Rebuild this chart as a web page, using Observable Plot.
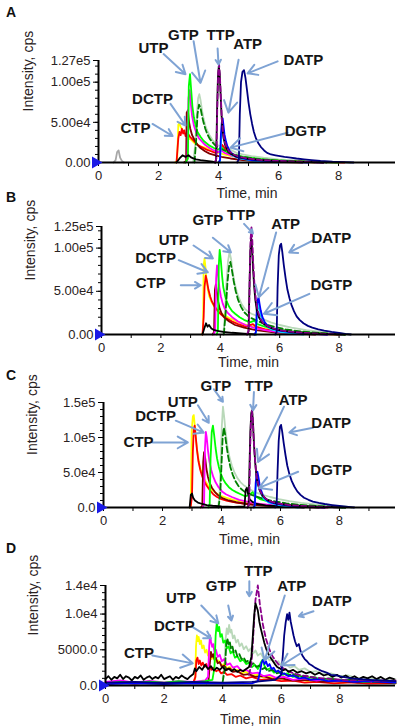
<!DOCTYPE html>
<html><head><meta charset="utf-8">
<script src="https://cdn.jsdelivr.net/npm/d3@7"></script>
<script src="https://cdn.jsdelivr.net/npm/@observablehq/plot@0.6"></script>
<style>
html,body{margin:0;padding:0;background:#fff;}
#root{position:relative;width:400px;height:728px;overflow:hidden;font-family:"Liberation Sans",Arial,sans-serif;}
.panel{position:absolute;left:0;}
.letter{position:absolute;left:6px;font:bold 14px "Liberation Sans",Arial,sans-serif;color:#111;line-height:14px;}
</style></head><body><div id="root"></div>
<script>
// ---------- Panel A traces [time (min), intensity (cps)] ----------
const A_grey = [[0.5,0],[0.57,3000],[0.62,13000],[0.67,15000],[0.72,6000],[0.78,2000],[0.85,0]];
const A_lightgreen = [[3.15,0],[3.22,20000],[3.27,55000],[3.32,80000],[3.36,85000],[3.4,78000],[3.45,65000],[3.5,55000],[3.56,46000],[3.62,40000],[3.7,34000],[3.8,28000],[3.9,24000],[4.0,21000],[4.15,20000],[4.3,18000],[4.45,15000],[4.6,12000],[4.8,10000],[5.1,8000],[5.5,6000],[6,4000],[6.6,2500],[7.2,1500],[8,500],[8.4,0]];
const A_yellow = [[2.55,0],[2.62,2000],[2.66,47000],[2.70,49000],[2.74,44000],[2.78,42000],[2.84,38000],[2.90,36000],[2.96,33000],[3.02,30000],[3.1,28000],[3.2,24000],[3.3,22000],[3.4,20000],[3.5,19000],[3.6,18000],[3.75,15000],[3.9,13000],[4.1,11000],[4.3,9000],[4.6,7000],[5.0,5000],[5.5,3000],[6,2000],[6.5,1200],[7,600],[7.2,0]];
const A_red = [[2.6,0],[2.66,30000],[2.70,38000],[2.74,34000],[2.78,42000],[2.82,36000],[2.86,40000],[2.9,33000],[2.95,37000],[3.0,35000],[3.05,32000],[3.1,30000],[3.2,26000],[3.3,22000],[3.4,20000],[3.5,18000],[3.6,16000],[3.75,14000],[3.9,12000],[4.05,14000],[4.12,22000],[4.2,18000],[4.3,12000],[4.5,9000],[4.8,6000],[5.2,4000],[5.8,2500],[6.5,1500],[7.5,500],[8.2,0]];
const A_maroon = [[2.85,0],[2.92,2000],[2.94,62000],[2.98,65000],[3.02,50000],[3.06,42000],[3.12,34000],[3.2,28000],[3.3,22000],[3.4,18000],[3.55,14000],[3.7,11000],[3.9,9000],[4.1,7000],[4.4,5000],[4.8,3000],[5.4,1500],[6.2,500],[6.8,0]];
const A_magenta = [[2.9,0],[2.96,3000],[3.0,80000],[3.04,90000],[3.08,72000],[3.12,58000],[3.18,46000],[3.25,38000],[3.35,30000],[3.45,26000],[3.55,22000],[3.7,18000],[3.85,15000],[4.0,13000],[4.1,15000],[4.2,12000],[4.4,9000],[4.7,6000],[5.1,4000],[5.6,2500],[6.3,1200],[7,500],[7.5,0]];
const A_green = [[2.9,0],[2.98,5000],[3.01,95000],[3.05,110000],[3.09,90000],[3.13,70000],[3.18,56000],[3.24,46000],[3.3,38000],[3.4,32000],[3.5,27000],[3.6,24000],[3.7,21000],[3.85,18000],[4.0,16000],[4.1,19000],[4.2,15000],[4.4,11000],[4.7,8000],[5.0,6000],[5.5,4000],[6,2500],[6.6,1500],[7.2,800],[8.0,0]];
const A_darkgreen = [[3.2,0],[3.26,30000],[3.3,60000],[3.35,72000],[3.4,68000],[3.45,58000],[3.5,50000],[3.56,42000],[3.62,36000],[3.7,30000],[3.8,25000],[3.9,21000],[4.0,18000],[4.15,16000],[4.3,13000],[4.5,10000],[4.8,7000],[5.2,5000],[5.7,3000],[6.3,1800],[7,800],[7.6,0]];
const A_black2 = [[2.6,0],[2.7,5000],[2.8,9000],[2.9,7000],[3.0,9000],[3.1,6000],[3.25,4000],[3.4,3000],[3.6,2000],[3.8,1000],[3.9,0]];
const A_cyan = [[4.05,0],[4.09,30000],[4.13,45000],[4.17,38000],[4.22,25000],[4.3,16000],[4.45,9000],[4.7,5000],[5.2,2000],[6,0]];
const A_blue = [[4.0,0],[4.05,3000],[4.08,35000],[4.11,50000],[4.14,55000],[4.17,45000],[4.2,35000],[4.25,26000],[4.3,20000],[4.38,14000],[4.48,10000],[4.6,7000],[4.8,5000],[5.1,3000],[5.5,2000],[6.2,1000],[7,0]];
const A_black = [[3.88,0],[3.92,3000],[3.95,60000],[3.98,105000],[4.01,120000],[4.04,110000],[4.07,85000],[4.1,60000],[4.13,42000],[4.17,30000],[4.22,22000],[4.3,15000],[4.4,11000],[4.55,8000],[4.75,6000],[5.0,4500],[5.4,3000],[6,1800],[6.8,800],[7.5,0]];
const A_purple = [[3.88,0],[3.93,5000],[3.96,70000],[3.99,112000],[4.02,122000],[4.05,105000],[4.08,80000],[4.11,55000],[4.15,38000],[4.2,27000],[4.27,19000],[4.35,14000],[4.5,10000],[4.7,7000],[5.0,5000],[5.4,3200],[6,2000],[6.8,900],[7.5,0]];
const A_navy = [[4.62,0],[4.68,4000],[4.71,60000],[4.75,100000],[4.8,113000],[4.85,115000],[4.9,105000],[4.95,90000],[5.0,75000],[5.06,60000],[5.12,48000],[5.18,38000],[5.25,30000],[5.33,24000],[5.42,19000],[5.52,15000],[5.62,12000],[5.75,10000],[5.9,9000],[6.05,8000],[6.2,7000],[6.4,6000],[6.6,5000],[6.85,4000],[7.1,3000],[7.4,2000],[7.8,1000],[8.2,500],[8.5,0]];
const A_labels = [["CTP",1.23,43000],["DCTP",1.8,79000],["UTP",1.83,142000],["GTP",2.83,159000],["TTP",4.07,159000],["ATP",4.97,147000],["DATP",6.83,128000],["DGTP",6.9,39500]];
const A_arrows = [[1.8,48000,2.47,33000],[2.4,73000,2.9,46000],[2.17,135000,2.9,110000],[3.17,151000,3.4,99000],[3.97,142000,4.0,122000],[4.67,128000,4.33,62000],[5.97,126000,4.97,111000],[6.3,37000,4.4,18500]];
const A_yTicks = [0, 50000, 100000, 127000];
const A_yTickLabels = ["0.00", "5.00e4", "1.00e5", "1.27e5"];

// ---------- Panel B ----------
const B_black2 = [[3.4,0],[3.47,8000],[3.52,13000],[3.57,9000],[3.62,11000],[3.7,7000],[3.8,5000],[3.95,4000],[4.1,3000],[4.4,2000],[4.8,1000],[5.2,0]];
const B_lightgreen = [[4.1,0],[4.15,20000],[4.2,55000],[4.26,85000],[4.31,95000],[4.36,88000],[4.42,72000],[4.48,60000],[4.55,50000],[4.63,42000],[4.72,35000],[4.82,30000],[4.95,26000],[5.05,24000],[5.2,22000],[5.35,20000],[5.5,17000],[5.7,14000],[6.0,11000],[6.4,8000],[6.9,5000],[7.4,3000],[8,1500],[8.4,0]];
const B_yellow = [[3.38,0],[3.42,3000],[3.44,80000],[3.47,88000],[3.5,78000],[3.54,62000],[3.58,52000],[3.63,44000],[3.7,38000],[3.8,32000],[3.9,28000],[4.0,25000],[4.15,22000],[4.3,19000],[4.5,16000],[4.7,13000],[5.0,10000],[5.4,7000],[5.9,4500],[6.5,2500],[7.2,1200],[8,0]];
const B_red = [[3.4,0],[3.44,20000],[3.47,55000],[3.51,68000],[3.55,62000],[3.6,52000],[3.66,44000],[3.72,38000],[3.8,33000],[3.9,28000],[4.0,24000],[4.1,21000],[4.25,18000],[4.4,15000],[4.6,12000],[4.85,9000],[5.1,12000],[5.2,9000],[5.5,6000],[6,3500],[6.6,2000],[7.3,800],[8,0]];
const B_maroon = [[3.74,0],[3.79,3000],[3.82,52000],[3.85,58000],[3.89,48000],[3.93,38000],[3.98,30000],[4.05,24000],[4.15,19000],[4.3,15000],[4.5,11000],[4.8,8000],[5.2,5000],[5.8,2500],[6.6,1000],[7.2,0]];
const B_magenta = [[3.78,0],[3.83,5000],[3.86,65000],[3.89,80000],[3.93,68000],[3.97,54000],[4.02,44000],[4.08,36000],[4.15,30000],[4.25,25000],[4.4,20000],[4.6,15000],[4.85,11000],[5.2,7000],[5.7,4000],[6.3,2000],[7,800],[7.6,0]];
const B_green = [[3.88,0],[3.92,5000],[3.95,80000],[3.98,98000],[4.02,85000],[4.06,68000],[4.1,55000],[4.16,45000],[4.22,38000],[4.3,32000],[4.4,27000],[4.5,24000],[4.65,20000],[4.8,17000],[5.0,14000],[5.15,16000],[5.25,12000],[5.5,9000],[5.9,6000],[6.4,3500],[7,2000],[7.6,800],[8.2,0]];
const B_darkgreen = [[4.12,0],[4.18,25000],[4.24,60000],[4.3,80000],[4.34,84000],[4.39,75000],[4.45,62000],[4.52,50000],[4.6,40000],[4.7,32000],[4.8,26000],[4.95,21000],[5.1,18000],[5.3,15000],[5.5,12000],[5.8,9000],[6.2,6000],[6.7,3500],[7.3,1800],[8,500],[8.3,0]];
const B_cyan = [[5.2,0],[5.24,25000],[5.28,35000],[5.33,28000],[5.4,18000],[5.5,11000],[5.7,6000],[6.1,2500],[6.8,0]];
const B_blue = [[5.15,0],[5.2,3000],[5.23,30000],[5.26,40000],[5.29,43000],[5.32,36000],[5.36,28000],[5.42,20000],[5.5,14000],[5.6,10000],[5.75,7000],[6.0,4500],[6.4,2500],[7,1000],[7.6,0]];
const B_black = [[4.9,0],[4.95,3000],[4.98,50000],[5.01,95000],[5.04,112000],[5.07,100000],[5.1,78000],[5.14,56000],[5.18,40000],[5.23,28000],[5.3,20000],[5.4,14000],[5.55,10000],[5.75,7000],[6.0,5000],[6.4,3000],[7,1500],[7.8,500],[8.2,0]];
const B_purple = [[4.9,0],[4.96,5000],[4.99,65000],[5.02,110000],[5.05,124000],[5.08,108000],[5.11,82000],[5.15,58000],[5.2,40000],[5.26,28000],[5.34,19000],[5.45,13000],[5.6,9500],[5.8,7000],[6.1,4500],[6.5,2800],[7.1,1300],[7.8,400],[8.1,0]];
const B_navy = [[5.85,0],[5.9,3000],[5.93,55000],[5.97,92000],[6.01,103000],[6.05,105000],[6.09,95000],[6.14,80000],[6.2,65000],[6.26,52000],[6.33,42000],[6.4,34000],[6.48,27000],[6.57,21000],[6.67,17000],[6.8,13000],[6.95,10000],[7.1,8000],[7.3,6000],[7.5,4500],[7.75,3000],[8.0,2000],[8.2,800],[8.4,0]];
const B_labels = [["CTP",1.66,59000],["DCTP",1.82,88000],["UTP",2.43,109000],["GTP",3.58,132000],["TTP",4.7,138000],["ATP",6.2,128000],["DATP",7.74,112000],["DGTP",7.74,57000]];
const B_arrows = [[2.67,57000,3.34,57000],[2.6,86000,3.58,72000],[3.1,103000,3.75,88000],[3.75,112000,4.36,95000],[4.8,128000,5.1,117000],[5.88,118000,5.3,43000],[7.13,109000,6.32,95000],[7.0,47000,5.47,24000]];
const B_yTicks = [0, 50000, 100000, 125000];
const B_yTickLabels = ["0.00", "5.00e4", "1.00e5", "1.25e5"];

// ---------- Panel C ----------
const C_black2 = [[2.92,0],[2.96,18000],[3.0,20000],[3.04,14000],[3.1,10000],[3.2,7000],[3.35,5000],[3.5,3500],[3.7,2500],[4.0,1500],[4.4,800],[4.78,1500],[4.82,25000],[4.86,28000],[4.9,20000],[4.95,12000],[5.05,8000],[5.2,5000],[5.5,3000],[6,1500],[6.8,0]];
const C_lightgreen = [[3.88,0],[3.93,15000],[3.97,60000],[4.01,115000],[4.05,144000],[4.09,130000],[4.14,108000],[4.2,88000],[4.27,72000],[4.35,60000],[4.44,50000],[4.54,42000],[4.65,36000],[4.78,31000],[4.92,27000],[5.05,24000],[5.2,21000],[5.4,18000],[5.65,15000],[5.95,12000],[6.3,9000],[6.7,6500],[7.2,4500],[7.7,3000],[8.2,1500],[8.4,0]];
const C_yellow = [[2.92,0],[2.96,3000],[2.99,110000],[3.03,130000],[3.06,132000],[3.1,115000],[3.14,95000],[3.18,80000],[3.23,66000],[3.29,55000],[3.36,46000],[3.45,38000],[3.55,31000],[3.65,26000],[3.8,21000],[3.95,17000],[4.15,14000],[4.4,11000],[4.7,8000],[5.1,5500],[5.6,3500],[6.2,2000],[7,800],[7.6,0]];
const C_red = [[2.95,0],[3.0,15000],[3.03,80000],[3.06,112000],[3.09,117000],[3.13,100000],[3.17,82000],[3.22,66000],[3.28,54000],[3.35,44000],[3.42,37000],[3.5,31000],[3.6,25000],[3.72,19000],[3.85,15000],[4.0,12000],[4.2,9500],[4.5,7000],[4.9,5000],[5.4,3200],[6,2000],[6.8,900],[7.5,0]];
const C_maroon = [[3.3,0],[3.35,3000],[3.38,65000],[3.41,79000],[3.45,70000],[3.49,55000],[3.54,44000],[3.6,35000],[3.68,28000],[3.78,22000],[3.9,17000],[4.05,13000],[4.25,10000],[4.5,7500],[4.85,5000],[5.3,3000],[6,1500],[6.8,500],[7.3,0]];
const C_magenta = [[3.36,0],[3.41,5000],[3.44,85000],[3.47,108000],[3.5,100000],[3.54,82000],[3.59,66000],[3.65,54000],[3.72,44000],[3.8,36000],[3.9,29000],[4.02,23000],[4.15,19000],[4.35,15000],[4.6,11000],[4.9,8000],[5.3,5000],[5.8,3000],[6.5,1500],[7.2,500],[7.6,0]];
const C_green = [[3.55,0],[3.6,5000],[3.63,70000],[3.67,108000],[3.71,117000],[3.75,104000],[3.8,85000],[3.85,70000],[3.91,58000],[3.98,48000],[4.06,40000],[4.15,34000],[4.25,29000],[4.37,25000],[4.5,22000],[4.65,19000],[4.8,16000],[4.95,18000],[5.05,22000],[5.15,16000],[5.3,12000],[5.55,9000],[5.9,6000],[6.4,3500],[7,2000],[7.6,800],[8.2,0]];
const C_darkgreen = [[3.9,0],[3.96,20000],[4.0,60000],[4.04,100000],[4.08,114000],[4.12,105000],[4.17,88000],[4.23,72000],[4.3,58000],[4.38,47000],[4.47,38000],[4.57,31000],[4.68,26000],[4.8,22000],[4.95,19000],[5.1,17000],[5.3,14000],[5.55,11000],[5.85,8500],[6.2,6000],[6.6,4000],[7.1,2500],[7.7,1200],[8.2,0]];
const C_cyan = [[5.12,0],[5.16,28000],[5.2,40000],[5.25,34000],[5.32,22000],[5.42,13000],[5.6,7000],[6,3000],[6.6,0]];
const C_blue = [[5.08,0],[5.13,3000],[5.16,35000],[5.19,48000],[5.22,51000],[5.25,44000],[5.29,34000],[5.34,25000],[5.4,18000],[5.48,12500],[5.58,9000],[5.72,6500],[5.95,4500],[6.3,2500],[6.9,1000],[7.5,0]];
const C_black = [[4.88,0],[4.92,3000],[4.95,60000],[4.98,110000],[5.01,135000],[5.04,139000],[5.07,120000],[5.1,92000],[5.14,66000],[5.18,47000],[5.23,34000],[5.3,24000],[5.4,16000],[5.55,11000],[5.75,7500],[6.0,5000],[6.4,3000],[7,1500],[7.8,500],[8.2,0]];
const C_purple = [[4.88,0],[4.94,5000],[4.97,80000],[5.0,125000],[5.03,138000],[5.06,128000],[5.09,100000],[5.13,72000],[5.17,52000],[5.22,37000],[5.29,26000],[5.38,18000],[5.5,12500],[5.68,8500],[5.9,6000],[6.3,3500],[6.9,1800],[7.6,600],[8,0]];
const C_navy = [[5.82,0],[5.87,3000],[5.9,50000],[5.94,95000],[5.98,115000],[6.02,118000],[6.06,108000],[6.11,92000],[6.17,75000],[6.23,60000],[6.3,48000],[6.38,38000],[6.47,30000],[6.57,23000],[6.68,18000],[6.8,14000],[6.95,11000],[7.1,8500],[7.3,6500],[7.5,5000],[7.75,3500],[8.0,2200],[8.3,800],[8.5,0]];
const C_labels = [["CTP",1.19,93000],["DCTP",1.77,131000],["UTP",2.69,151000],["GTP",3.81,174000],["TTP",5.27,174000],["ATP",6.43,153000],["DATP",7.72,121000],["DGTP",7.72,54000]];
const C_arrows = [[1.67,93000,2.86,93000],[2.45,124000,3.4,107000],[3.2,146000,3.57,121000],[3.74,169000,4.05,151000],[5.1,165000,5.07,139000],[6.12,144000,5.24,65000],[7.1,114000,6.3,107000],[6.6,51000,5.27,28000]];
const C_yTicks = [0, 50000, 100000, 150000];
const C_yTickLabels = ["0.0", "5.0e4", "1.0e5", "1.5e5"];

// ---------- Panel D ----------
const D_black = [[0,900],[0.1,1300],[0.2,800],[0.3,1200],[0.4,1000],[0.5,1500],[0.6,900],[0.7,1300],[0.8,1100],[0.9,700],[1.0,1200],[1.1,1000],[1.2,1400],[1.3,800],[1.4,1100],[1.5,1300],[1.6,900],[1.7,1200],[1.8,1000],[1.9,1500],[2.0,900],[2.1,1100],[2.2,1300],[2.3,800],[2.4,1200],[2.5,1000],[2.6,1400],[2.7,1100],[2.8,900],[2.9,1300],[3.0,1600],[3.05,2400],[3.1,2000],[3.2,2600],[3.3,2200],[3.4,2900],[3.5,2300],[3.6,2700],[3.7,2100],[3.8,2500],[3.9,2200],[4.0,2600],[4.1,2100],[4.2,2400],[4.3,2000],[4.4,2300],[4.5,1900],[4.6,2200],[4.7,2000],[4.8,2300],[4.9,2600],[4.98,4000],[5.03,7000],[5.08,10000],[5.12,11500],[5.16,11000],[5.2,10500],[5.25,9000],[5.3,8000],[5.36,7000],[5.42,6000],[5.48,5200],[5.55,4500],[5.62,4000],[5.7,3500],[5.78,3000],[5.86,2600],[5.95,2400],[6.05,2100],[6.15,2300],[6.25,1900],[6.4,2200],[6.55,1800],[6.7,2000],[6.85,1700],[7.0,1900],[7.15,1500],[7.3,1800],[7.45,1400],[7.6,1600],[7.75,1200],[7.9,1500],[8.05,1100],[8.2,1400],[8.35,1000],[8.5,1300],[8.65,900],[8.8,1200],[8.95,1000],[9.1,1300],[9.25,900],[9.4,1200],[9.55,800],[9.7,1100],[9.85,900]];
const D_lightgreen = [[4.0,1000],[4.06,3000],[4.1,6500],[4.14,8000],[4.18,7200],[4.22,8500],[4.26,7400],[4.3,7800],[4.35,6600],[4.4,7000],[4.46,6000],[4.52,6400],[4.58,5500],[4.65,5900],[4.72,5100],[4.8,5500],[4.88,4800],[4.96,5200],[5.04,4500],[5.12,4900],[5.2,4200],[5.3,4500],[5.4,3800],[5.5,4100],[5.6,3500],[5.7,3700],[5.8,3100],[5.9,3400],[6.0,2800],[6.15,3000],[6.3,2500],[6.45,2700],[6.6,2200],[6.8,2400],[7.0,1900],[7.2,2000],[7.4,1600],[7.7,1700],[8.0,1300],[8.3,1400],[8.6,1000],[9.0,1100],[9.4,800],[9.9,900]];
const D_yellow = [[2.9,300],[3.0,500],[3.06,800],[3.09,5500],[3.12,7000],[3.15,6200],[3.18,6800],[3.22,5800],[3.26,6300],[3.3,5200],[3.35,5600],[3.4,4600],[3.45,5000],[3.5,4200],[3.56,4500],[3.62,3700],[3.7,4000],[3.78,3300],[3.86,3500],[3.95,2800],[4.05,3000],[4.15,2400],[4.25,2600],[4.35,2000],[4.5,2200],[4.65,1700],[4.8,1900],[5.0,1400],[5.2,1500],[5.4,1100],[5.6,1200],[5.8,900],[6.0,1000],[6.3,700],[6.6,900],[6.9,600],[7.2,800],[7.5,500],[7.8,700],[8.1,400],[8.5,600],[8.9,300],[9.3,500],[9.9,300]];
const D_red = [[0,200],[0.5,400],[1.0,250],[1.5,450],[2.0,300],[2.5,400],[3.0,450],[3.07,1200],[3.1,3500],[3.14,3900],[3.18,3000],[3.22,3500],[3.27,2800],[3.32,3200],[3.38,2600],[3.44,3000],[3.5,2400],[3.56,2700],[3.62,2200],[3.7,2500],[3.78,2000],[3.86,2200],[3.95,1700],[4.05,1900],[4.15,1500],[4.3,1600],[4.45,1200],[4.6,1400],[4.8,1000],[5.0,1200],[5.3,800],[5.6,900],[6.0,600],[6.4,700],[6.8,400],[7.2,500],[7.8,300],[8.4,450],[9.0,250],[9.9,350]];
const D_maroon = [[3.45,300],[3.52,800],[3.56,3000],[3.6,4700],[3.64,4000],[3.68,4400],[3.72,3600],[3.77,3900],[3.83,3100],[3.9,3300],[3.97,2600],[4.05,2800],[4.15,2200],[4.25,2400],[4.35,1900],[4.5,2000],[4.7,1500],[4.9,1600],[5.1,1200],[5.4,1300],[5.7,900],[6.0,1000],[6.4,700],[6.9,800],[7.4,500],[8.0,600],[8.6,400],[9.2,500],[9.9,300]];
const D_magenta = [[0,500],[0.5,700],[1.0,400],[1.5,650],[2.0,450],[2.5,600],[3.0,500],[3.4,700],[3.5,1200],[3.54,5500],[3.57,7000],[3.6,6200],[3.64,5400],[3.68,5800],[3.72,4600],[3.77,5000],[3.83,4000],[3.9,4300],[3.97,3400],[4.05,3700],[4.15,2900],[4.25,3100],[4.35,2500],[4.5,2700],[4.65,2000],[4.8,2200],[5.0,1700],[5.2,1800],[5.4,1300],[5.6,1500],[5.8,1100],[6.1,1200],[6.4,800],[6.8,1000],[7.2,700],[7.6,900],[8.0,600],[8.5,800],[9.0,500],[9.5,700],[9.9,500]];
const D_green = [[0,300],[0.5,500],[1.0,350],[1.5,550],[2.0,400],[2.5,600],[3.0,450],[3.4,600],[3.65,800],[3.72,2500],[3.76,7000],[3.8,8800],[3.84,7600],[3.88,8200],[3.92,6800],[3.97,7200],[4.02,6000],[4.08,6300],[4.14,5200],[4.2,5500],[4.27,4500],[4.34,4800],[4.42,3900],[4.5,4100],[4.6,3400],[4.7,3600],[4.8,3000],[4.9,3200],[5.0,2600],[5.1,2900],[5.2,2300],[5.3,3200],[5.36,3600],[5.42,2800],[5.5,2200],[5.62,2400],[5.75,1800],[5.9,2000],[6.05,1500],[6.2,1700],[6.4,1200],[6.6,1400],[6.85,1000],[7.1,1200],[7.4,800],[7.7,1000],[8.0,700],[8.4,800],[8.8,500],[9.3,700],[9.9,400]];
const D_darkgreen = [[4.0,500],[4.08,2500],[4.12,5500],[4.16,6600],[4.2,5800],[4.24,6200],[4.28,5200],[4.33,5500],[4.38,4600],[4.44,4900],[4.5,4100],[4.57,4400],[4.64,3700],[4.72,3900],[4.8,3300],[4.88,3500],[4.96,2900],[5.05,3100],[5.15,2600],[5.25,2800],[5.35,2300],[5.45,2500],[5.55,2000],[5.7,2200],[5.85,1700],[6.0,1900],[6.2,1400],[6.4,1600],[6.6,1200],[6.9,1300],[7.2,900],[7.6,1000],[8.0,700],[8.5,800],[9.0,500],[9.9,600]];
const D_blue = [[0,200],[1,300],[2,200],[3,300],[4,250],[5.0,300],[5.2,600],[5.28,2000],[5.33,3200],[5.38,3600],[5.43,3000],[5.48,3400],[5.54,2700],[5.6,3000],[5.67,2300],[5.74,2500],[5.82,1900],[5.9,2100],[6.0,1600],[6.1,1700],[6.25,1300],[6.4,1400],[6.6,1000],[6.8,1100],[7.0,800],[7.3,900],[7.6,600],[8.0,700],[8.5,500],[9.0,600],[9.9,400]];
const D_purple = [[4.9,1500],[4.98,3000],[5.03,6000],[5.08,9500],[5.12,12000],[5.16,13000],[5.2,14000],[5.24,12500],[5.28,11000],[5.32,10000],[5.37,8600],[5.42,7600],[5.48,6500],[5.55,5600],[5.62,4800],[5.7,4100],[5.8,3500],[5.9,3000],[6.0,2600],[6.15,2200],[6.3,1900],[6.5,1600],[6.7,1400],[7.0,1200],[7.4,1000],[7.8,900],[8.3,700],[8.8,800],[9.3,600],[9.9,700]];
const D_navy = [[0,400],[1,500],[2,350],[3,500],[4,400],[5,500],[5.8,800],[6.0,1500],[6.05,4000],[6.1,7000],[6.15,8800],[6.2,10000],[6.24,9200],[6.28,10200],[6.32,9000],[6.37,8000],[6.42,7000],[6.47,6200],[6.53,5500],[6.6,5800],[6.66,4800],[6.72,4200],[6.8,3700],[6.88,3400],[6.96,3000],[7.05,2800],[7.15,2500],[7.25,2300],[7.4,2000],[7.55,1800],[7.7,1500],[7.9,1400],[8.1,1200],[8.4,1000],[8.7,900],[9.0,800],[9.4,700],[9.9,600]];
const D_labels = [["CTP",1.14,4500],["DCTP",2.35,8300],["UTP",2.58,12200],["GTP",3.95,13900],["TTP",5.22,16000],["ATP",6.36,13900],["DATP",7.73,11800],["DCTP",8.3,6300]];
const D_arrows = [[1.6,4200,2.98,3100],[2.92,8300,3.6,6600],[3.27,11200,3.85,8700],[4.19,11200,4.3,9100],[4.91,14600,4.91,12500],[6.12,12600,5.43,3500],[7.1,10400,6.6,9700],[7.2,5900,6.0,2800]];
const D_yTicks = [0, 5000, 10000, 14000];
const D_yTickLabels = ["0.0", "5000.0", "1.0e4", "1.4e4"];

const xTicks = [0, 2, 4, 6, 8];
const panelLetters = ["A", "B", "C", "D"];
const xTitle = "Time, min";
const yTitle = "Intensity, cps";

const colors = {grey:"#a8a8a8", lightgreen:"#b9d8b9", yellow:"#ffff00", red:"#ff0000", maroon:"#800000", magenta:"#ff00ff", green:"#00ff00", darkgreen:"#008000", black2:"#000000", cyan:"#00e0ff", blue:"#0000ff", black:"#000000", purple:"#8b008b", navy:"#000080"};
const dashes = {darkgreen:"6,3", purple:"5,3"};

const panels = [
  {letter:"A", top:0, height:200, mt:60, mb:38, ml:98, yMax:127000, minorStep:10000, yTicks:A_yTicks, yLabels:A_yTickLabels, labels:A_labels, arrows:A_arrows, xdy:35, ydx:-70,
   traces:[["grey",A_grey],["lightgreen",A_lightgreen],["yellow",A_yellow],["red",A_red],["maroon",A_maroon],["magenta",A_magenta],["green",A_green],["darkgreen",A_darkgreen],["black2",A_black2],["cyan",A_cyan],["blue",A_blue],["black",A_black],["purple",A_purple],["navy",A_navy]]},
  {letter:"B", top:200, height:168, mt:26, mb:34, ml:101, yMax:125000, minorStep:10000, yTicks:B_yTicks, yLabels:B_yTickLabels, labels:B_labels, arrows:B_arrows, xdy:32, ydx:-71,
   traces:[["lightgreen",B_lightgreen],["yellow",B_yellow],["red",B_red],["maroon",B_maroon],["magenta",B_magenta],["green",B_green],["darkgreen",B_darkgreen],["black2",B_black2],["cyan",B_cyan],["blue",B_blue],["black",B_black],["purple",B_purple],["navy",B_navy]]},
  {letter:"C", top:368, height:178, mt:34, mb:39, ml:103, yMax:150000, minorStep:10000, yTicks:C_yTicks, yLabels:C_yTickLabels, labels:C_labels, arrows:C_arrows, xdy:36, ydx:-71,
   traces:[["lightgreen",C_lightgreen],["yellow",C_yellow],["red",C_red],["maroon",C_maroon],["magenta",C_magenta],["green",C_green],["darkgreen",C_darkgreen],["black2",C_black2],["cyan",C_cyan],["blue",C_blue],["black",C_black],["purple",C_purple],["navy",C_navy]]},
  {letter:"D", top:546, height:182, mt:39, mb:43, ml:105, yMax:14000, minorStep:1000, yTicks:D_yTicks, yLabels:D_yTickLabels, labels:D_labels, arrows:D_arrows, xdy:38, ydx:-72,
   traces:[["lightgreen",D_lightgreen],["yellow",D_yellow],["red",D_red],["maroon",D_maroon],["magenta",D_magenta],["green",D_green],["darkgreen",D_darkgreen],["blue",D_blue],["purple",D_purple],["black",D_black],["navy",D_navy]]}
];
const letterTops = [5, 190, 368, 541];

const xMax = 9.9;
const root = document.getElementById("root");
panels.forEach((p, pi) => {
  const marks = [];
  const minor = d3.range(0, p.yMax + 1, p.minorStep);
  marks.push(Plot.axisY({ticks: minor, tickSize: 3, tickFormat: () => "", label: null, strokeWidth: 1}));
  marks.push(Plot.axisY({ticks: p.yTicks, tickSize: 5, tickPadding: 3, label: null, fontSize: 13, fill: "#2a2222",
    tickFormat: d => p.yLabels[p.yTicks.indexOf(d)]}));
  marks.push(Plot.axisX({ticks: d3.range(0, 10, 1), tickSize: 4, tickPadding: 4, label: null, fontSize: 13, fill: "#2a2222",
    tickFormat: d => xTicks.includes(d) ? String(d) : ""}));
  for (const [key, pts] of p.traces) {
    marks.push(Plot.line(pts, {x: d => d[0], y: d => d[1], stroke: colors[key], strokeWidth: 1.8, strokeDasharray: dashes[key]}));
  }
  marks.push(Plot.ruleY([0], {x1: 0, x2: xMax, strokeWidth: 2.2, stroke: "#000"}));
  marks.push(Plot.ruleX([0], {y1: 0, y2: p.yMax, strokeWidth: 2, stroke: "#000"}));
  marks.push(Plot.dot([[0, 0]], {x: d => d[0], y: d => d[1], symbol: "triangle", r: 4.5, fill: "#1a1ae6", stroke: null, rotate: 90, dx: -3}));
  marks.push(Plot.arrow(p.arrows, {x1: d => d[0], y1: d => d[1], x2: d => d[2], y2: d => d[3], stroke: "#7fa3d4", strokeWidth: 2, headLength: 10}));
  marks.push(Plot.text(p.labels, {x: d => d[1], y: d => d[2], text: d => d[0], fontSize: 15, fontWeight: "bold", fill: "#151515"}));
  marks.push(Plot.text([xTitle], {text: d => d, frameAnchor: "bottom", dy: p.xdy, lineAnchor: "bottom", fontSize: 14, fill: "#2a2222"}));
  marks.push(Plot.text([yTitle], {text: d => d, frameAnchor: "left", dx: p.ydx, rotate: -90, fontSize: 14, fill: "#2a2222"}));
  const chart = Plot.plot({
    width: 400, height: p.height,
    marginTop: p.mt, marginBottom: p.mb, marginLeft: p.ml, marginRight: 5,
    x: {domain: [0, xMax]}, y: {domain: [0, p.yMax]},
    style: {fontFamily: "'Liberation Sans', Arial, sans-serif", fontSize: "13px", background: "transparent", overflow: "visible"},
    marks
  });
  const wrap = document.createElement("div");
  wrap.className = "panel";
  wrap.style.top = p.top + "px";
  wrap.appendChild(chart);
  root.appendChild(wrap);
  const L = document.createElement("div");
  L.className = "letter";
  L.style.top = letterTops[pi] + "px";
  L.textContent = panelLetters[pi];
  root.appendChild(L);
});
</script></body></html>
